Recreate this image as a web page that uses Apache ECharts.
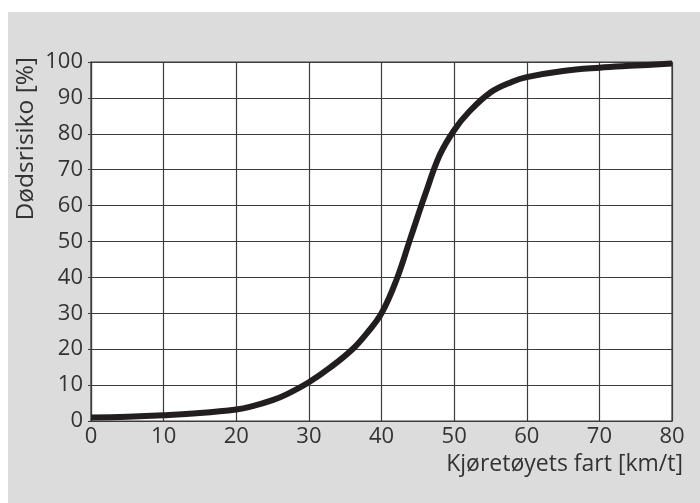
<!DOCTYPE html>
<html>
<head>
<meta charset="utf-8">
<script src="https://cdn.jsdelivr.net/npm/echarts@6/dist/echarts.min.js"></script>
<style>
html,body{margin:0;padding:0;background:#fff;}
#c{width:700px;height:503px;}
</style>
</head>
<body>
<div id="c"></div>
<script>
const speeds = [0, 5, 10, 15, 20, 22, 25, 27, 30, 33, 36, 38, 40, 42, 44, 46, 48, 50, 52, 55, 58, 60, 65, 70, 75, 80];
const risk   = [1, 1.2, 1.6, 2.2, 3.2, 4, 5.8, 7.5, 10.8, 15, 20, 24.5, 30, 39, 51, 63, 74, 81, 86, 91.5, 94.5, 95.8, 97.5, 98.4, 99, 99.6];
const xTicks = [0, 10, 20, 30, 40, 50, 60, 70, 80];
const yTicks = [0, 10, 20, 30, 40, 50, 60, 70, 80, 90, 100];
const xTitle = 'Kjøretøyets fart [km/t]';
const yTitle = 'Dødsrisiko [%]';

const chart = echarts.init(document.getElementById('c'));
const font = '"Open Sans", "Noto Sans", sans-serif';
const gridColor = '#3c3c3c';
const textColor = '#333333';
chart.setOption({
  animation: false,
  backgroundColor: '#fff',
  graphic: [
    { type: 'rect', left: 8, top: 12, shape: { width: 692, height: 491 }, style: { fill: '#dcdcdd' }, z: -10 },
    { type: 'text', left: 14, top: 57, rotation: Math.PI / 2,
      style: { text: yTitle, font: '24.5px ' + font, fill: textColor }, z: 10 }
  ],
  grid: { left: 91, right: 28, top: 62, bottom: 82, show: true, backgroundColor: '#fff', borderColor: gridColor, borderWidth: 1.2 },
  xAxis: {
    type: 'value', min: xTicks[0], max: xTicks[xTicks.length - 1], interval: 10,
    name: xTitle, nameLocation: 'end', nameGap: 11,
    nameTextStyle: { fontFamily: font, fontSize: 23, color: textColor, align: 'right', verticalAlign: 'top', padding: [32, 0, 0, 0] },
    axisLine: { show: true, lineStyle: { color: gridColor, width: 1.2 } },
    axisTick: { show: false },
    axisLabel: { fontFamily: font, fontSize: 22, color: textColor, margin: 5 },
    splitLine: { show: true, lineStyle: { color: gridColor, width: 1.2 } }
  },
  yAxis: {
    type: 'value', min: yTicks[0], max: yTicks[yTicks.length - 1], interval: 10,
    axisLine: { show: true, lineStyle: { color: gridColor, width: 1.2 } },
    axisTick: { show: true, length: 3, lineStyle: { color: gridColor } },
    axisLabel: { fontFamily: font, fontSize: 22, color: textColor, margin: 8 },
    splitLine: { show: true, lineStyle: { color: gridColor, width: 1.2 } }
  },
  series: [{
    type: 'line', smooth: 0.4, symbol: 'none',
    data: speeds.map((s, i) => [s, risk[i]]),
    lineStyle: { color: '#221e1f', width: 6 },
    clip: false
  }]
});
</script>
</body>
</html>
